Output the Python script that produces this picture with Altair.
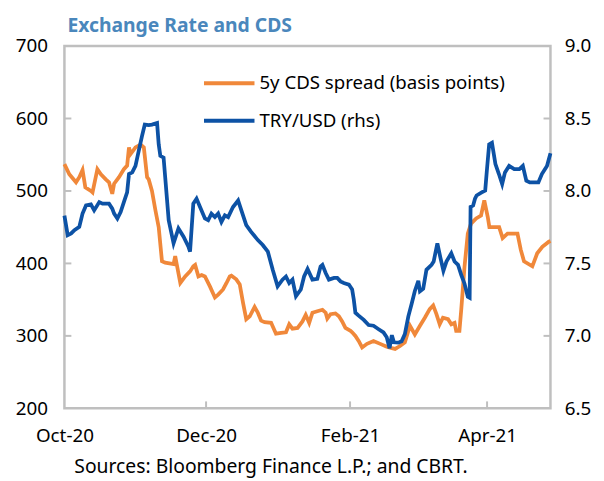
import altair as alt
import pandas as pd

# ---------------- data ----------------
START = "2020-10-01"

# days since 1 Oct 2020 and 5y CDS spread (basis points, left axis)
cds_days = [0, 2.1, 5.0, 6.4, 7.8, 9.0, 11.4, 12.1, 14.2, 15.7, 17.8, 19.2, 20.6, 21.4,
            23.5, 25.6, 27.0, 27.8, 28.5, 30.6, 32.8, 34.2, 35.6, 36.3, 37.7, 39.2, 40.6,
            42.0, 43.4, 47.0, 47.7, 49.9, 52.0, 54.1, 55.5, 56.3, 57.7, 59.1, 60.5, 62.7,
            64.8, 66.2, 68.3, 69.8, 71.2, 71.9, 74.0, 75.5, 76.9, 78.3, 79.8, 81.9, 83.3,
            84.7, 86.2, 89.0, 91.1, 93.3, 95.4, 96.8, 98.2, 100.4, 102.5, 103.9, 105.4,
            106.8, 108.9, 111.1, 112.5, 113.2, 114.6, 116.7, 118.2, 119.6, 121.0, 123.2,
            123.9, 125.3, 126.7, 128.2, 130.3, 133.1, 136.0, 138.8, 141.0, 142.4, 144.5,
            146.6, 148.8, 150.9, 153.1, 155.2, 157.3, 158.8, 160.2, 161.6, 163.0, 165.2,
            166.6, 168.0, 168.7, 170.1, 170.9, 172.3, 173.7, 175.1, 177.3, 179.4, 180.8,
            182.3, 183.0, 187.2, 188.7, 190.8, 195.1, 196.5, 197.9, 201.5, 203.6, 205.8,
            208.6, 209.3]
cds_values = [537, 523, 512, 519, 529, 505, 500, 498, 530, 523, 516, 512, 496, 510,
              519, 530, 535, 560, 551, 560, 564, 560, 519, 516, 500, 473, 450,
              403, 401, 399, 410, 373, 382, 389, 396, 398, 382, 384, 382, 368,
              353, 357, 364, 373, 382, 383, 378, 371, 346, 323, 327, 340, 332,
              321, 319, 318, 303, 304, 305, 316, 310, 311, 320, 329, 318,
              332, 334, 336, 332, 324, 330, 331, 327, 320, 311, 307,
              305, 300, 293, 284, 289, 293, 289, 285, 283, 282, 286,
              291, 314, 302, 314, 325, 337, 342, 330, 316, 325, 323,
              316, 318, 307, 307, 337, 396, 441, 455, 462, 466, 487,
              464, 450, 450, 435, 441, 441, 419, 403, 396, 414, 423,
              430, 431]

# days since 1 Oct 2020 and TRY/USD (right axis)
try_days = [0, 1.4, 2.9, 4.3, 6.4, 7.8, 9.3, 11.4, 12.8, 15.0, 16.4, 19.2, 20.6, 21.4,
            22.8, 24.2, 25.6, 27.0, 27.8, 29.2, 30.6, 32.0, 33.4, 34.6, 36.3, 37.7, 39.9,
            40.6, 41.3, 42.7, 43.4, 44.9, 47.0, 49.1, 51.3, 53.4, 54.1, 55.5, 56.9, 58.4,
            60.5, 61.9, 63.3, 64.8, 66.2, 67.6, 69.1, 70.5, 72.6, 74.8, 76.2, 78.3, 80.4,
            83.3, 85.4, 87.6, 89.7, 91.8, 93.9, 95.4, 96.8, 98.2, 99.7, 101.8, 103.2,
            104.7, 106.8, 108.9, 110.3, 111.1, 112.5, 113.9, 116.1, 117.5, 118.9, 120.3,
            122.5, 123.9, 124.6, 125.3, 126.7, 128.9, 131.0, 133.1, 135.3, 137.4, 138.8,
            140.0, 141.0, 141.9, 143.8, 145.2, 146.6, 148.1, 149.5, 150.9, 152.4, 153.1,
            154.5, 155.9, 158.1, 159.0, 160.6, 161.9, 163.2, 164.5, 166.6, 168.0, 169.5,
            170.9, 172.3, 173.7, 174.5, 174.9, 176.0, 176.8, 177.5, 179.7, 181.2, 181.9,
            182.9, 184.1, 185.6, 187.1, 188.5, 189.7, 191.5, 193.7, 195.9, 197.4, 198.9,
            200.4, 204.1, 205.6, 207.8, 209.3]
try_values = [7.83, 7.695, 7.707, 7.73, 7.752, 7.844, 7.90, 7.907, 7.866, 7.923, 7.912, 7.912, 7.878, 7.844,
              7.81, 7.855, 7.923, 7.99, 8.117, 8.128, 8.173, 8.276, 8.378, 8.458, 8.454, 8.458, 8.469,
              8.322, 8.242, 8.23, 8.094, 7.798, 7.639, 7.741, 7.684, 7.615, 7.581, 7.912, 7.946, 7.889,
              7.81, 7.798, 7.844, 7.82, 7.844, 7.786, 7.832, 7.82, 7.889, 7.934, 7.866, 7.764, 7.718,
              7.661, 7.627, 7.581, 7.456, 7.342, 7.388, 7.41, 7.365, 7.388, 7.274, 7.32, 7.41,
              7.461, 7.388, 7.393, 7.479, 7.49, 7.434, 7.388, 7.40, 7.40, 7.376, 7.365,
              7.354, 7.32, 7.251, 7.16, 7.14, 7.11, 7.075, 7.07, 7.046, 7.024, 6.99,
              6.915, 7.005, 6.956, 6.953, 6.963, 7.012, 7.135, 7.22, 7.31, 7.38, 7.308,
              7.325, 7.456, 7.49, 7.513, 7.639, 7.54, 7.45, 7.513, 7.57, 7.513, 7.49,
              7.42, 7.36, 7.27, 7.263, 7.89, 7.90, 7.946, 7.969, 7.99, 8.003, 8.139,
              8.322, 8.333, 8.185, 8.117, 8.048, 8.128, 8.173, 8.151, 8.151, 8.173, 8.071,
              8.059, 8.059, 8.117, 8.173, 8.26]

series_names = ["5y CDS spread (basis points)", "TRY/USD (rhs)"]
series_colors = ["#F0883A", "#0D52A5"]

left_labels = [200, 300, 400, 500, 600, 700]
right_labels = [6.5, 7.0, 7.5, 8.0, 8.5, 9.0]
inner_ticks = [7.0, 7.5, 8.0, 8.5]   # same heights as 300..600 on the left axis
x_label_dates = ["2020-10-01", "2020-12-01", "2021-02-01", "2021-04-01"]
x_inner_ticks = ["2020-12-01", "2021-02-01", "2021-04-01"]

title_text = "Exchange Rate and CDS"
source_text = "Sources: Bloomberg Finance L.P.; and CBRT."

# ---------------- build tables ----------------
base = pd.Timestamp(START)
fmt = "%Y-%m-%dT%H:%M:%S"
cds_df = pd.DataFrame({"date": (base + pd.to_timedelta(cds_days, unit="D")).strftime(fmt),
                       "value": cds_values, "series": series_names[0]})
try_df = pd.DataFrame({"date": (base + pd.to_timedelta(try_days, unit="D")).strftime(fmt),
                       "value": try_values, "series": series_names[1]})
end_ts = base + pd.to_timedelta(max(cds_days[-1], try_days[-1]), unit="D")

W, H = 491, 366
FONT = "Noto Sans"
GRAY = "#BFBFBF"
LBL = 19

x_scale = alt.Scale(domain=[base.strftime(fmt), end_ts.strftime(fmt)], nice=False)
x_axis = alt.Axis(values=x_label_dates, format="%b-%y", title=None,
                  grid=False, ticks=False, domain=False, labelFlush=False,
                  labelFontSize=LBL, labelFont=FONT, labelColor="#000000", labelPadding=18)

left_scale = alt.Scale(domain=[200, 700], nice=False, zero=False)
right_scale = alt.Scale(domain=[6.5, 9.0], nice=False, zero=False)
left_axis = alt.Axis(orient="left", values=left_labels, title=None, grid=False,
                     ticks=False, domain=False, labelFontSize=LBL, labelFont=FONT,
                     labelColor="#000000", labelPadding=17)
right_axis = alt.Axis(orient="right", values=right_labels, format=".1f", title=None,
                      grid=False, ticks=False, domain=False, labelFontSize=LBL,
                      labelFont=FONT, labelColor="#000000", labelPadding=14)
empty_axis = alt.Axis(orient="right", labels=False, ticks=False, domain=False,
                      grid=False, title=None)

color = alt.Color("series:N",
                  scale=alt.Scale(domain=series_names, range=series_colors),
                  legend=alt.Legend(title=None, orient="none", legendX=139, legendY=10,
                                    symbolType="stroke", symbolSize=2601, labelLimit=400,
                                    symbolStrokeWidth=4, labelFontSize=18.8, labelFont=FONT,
                                    labelColor="#000000", rowPadding=-15, labelOffset=3))

cds_line = alt.Chart(cds_df).mark_line(strokeWidth=3.8).encode(
    x=alt.X("date:T", scale=x_scale, axis=x_axis),
    y=alt.Y("value:Q", scale=left_scale, axis=left_axis),
    color=color,
)

try_line = alt.Chart(try_df).mark_line(strokeWidth=3.8).encode(
    x=alt.X("date:T", scale=x_scale, axis=x_axis),
    y=alt.Y("value:Q", scale=right_scale, axis=right_axis),
    color=color,
)

tick_df = pd.DataFrame({"v": inner_ticks})
left_ticks = alt.Chart(tick_df).mark_rule(color=GRAY, strokeWidth=2).encode(
    y=alt.Y("v:Q", scale=right_scale, axis=empty_axis),
    x=alt.value(0), x2=alt.value(7))
right_ticks = alt.Chart(tick_df).mark_rule(color=GRAY, strokeWidth=2).encode(
    y=alt.Y("v:Q", scale=right_scale, axis=empty_axis),
    x=alt.value(W - 7), x2=alt.value(W))
x_ticks = alt.Chart(pd.DataFrame({"d": x_inner_ticks})).mark_rule(
    color=GRAY, strokeWidth=2).encode(
    x=alt.X("d:T", scale=x_scale, axis=x_axis),
    y=alt.value(H), y2=alt.value(H - 7))

source = alt.Chart(pd.DataFrame({"t": [source_text]})).mark_text(
    align="left", baseline="alphabetic", fontSize=19.5, font=FONT, color="#000000").encode(
    text="t:N", x=alt.value(10), y=alt.value(H + 65))

chart = alt.layer(cds_line, try_line, left_ticks, right_ticks, x_ticks, source).resolve_scale(
    y="independent").properties(
    width=W, height=H,
    padding={"left": 7, "top": 5, "right": 5, "bottom": 5},
    title=alt.TitleParams(text=title_text, anchor="start", frame="group", dx=3,
                          fontSize=19.5, fontWeight="bold", font=FONT, color="#4A87BC",
                          offset=1),
).configure_view(stroke=GRAY, strokeWidth=2.5)

chart.save("out.html", embed_options={"renderer": "svg", "actions": False})
